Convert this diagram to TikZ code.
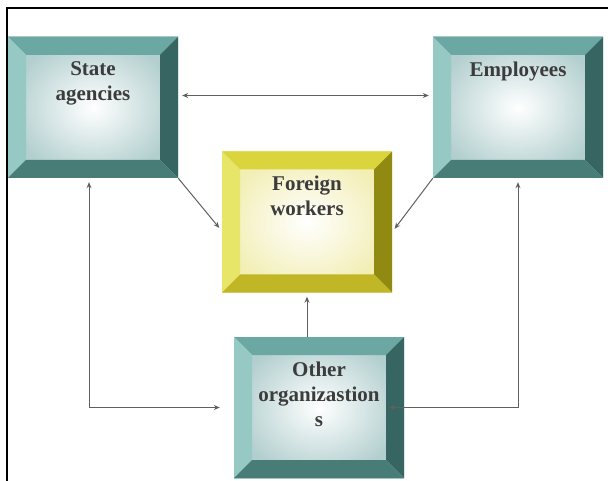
\documentclass[tikz,border=0pt]{standalone}
\usepackage{fontspec}
\setmainfont{Liberation Serif}
\usetikzlibrary{positioning,arrows.meta}

\definecolor{tealtop}{RGB}{108,168,163}
\definecolor{tealleft}{RGB}{150,200,196}
\definecolor{tealright}{RGB}{55,102,98}
\definecolor{tealbottom}{RGB}{72,124,119}
\definecolor{tealface}{RGB}{178,206,206}
\definecolor{yellowtop}{RGB}{218,213,60}
\definecolor{yellowleft}{RGB}{232,230,105}
\definecolor{yellowright}{RGB}{145,138,18}
\definecolor{yellowbottom}{RGB}{192,182,38}
\definecolor{yellowface}{RGB}{242,238,180}
\definecolor{labelgray}{RGB}{60,60,60}
\definecolor{linkgray}{RGB}{95,95,95}

% the four slanted sides of a raised box
\newcommand{\bevelsides}[1]{%
  \coordinate (nw) at (path picture bounding box.north west);
  \coordinate (ne) at (path picture bounding box.north east);
  \coordinate (sw) at (path picture bounding box.south west);
  \coordinate (se) at (path picture bounding box.south east);
  \fill[#1top] (nw) -- (ne) -- ([shift={(-18pt,-18pt)}]ne) -- ([shift={(18pt,-18pt)}]nw) -- cycle;
  \fill[#1left] (nw) -- (sw) -- ([shift={(18pt,18pt)}]sw) -- ([shift={(18pt,-18pt)}]nw) -- cycle;
  \fill[#1right] (ne) -- (se) -- ([shift={(-18pt,18pt)}]se) -- ([shift={(-18pt,-18pt)}]ne) -- cycle;
  \fill[#1bottom] (sw) -- (se) -- ([shift={(-18pt,18pt)}]se) -- ([shift={(18pt,18pt)}]sw) -- cycle;
}

\tikzset{
  bevelbox/.style={minimum width=170pt, minimum height=141pt, inner sep=0pt,
    inner color=white, outer color=#1face, path picture={\bevelsides{#1}}},
  boxtext/.style={align=center, inner sep=0pt, text=labelgray,
    font=\fontsize{21}{25}\selectfont\bfseries},
  link/.style={->, draw=linkgray, line width=1pt, shorten >=4pt}
}

\begin{document}
\begin{tikzpicture}[x=1pt,y=-1pt,>={Stealth[length=6pt,width=5pt]},node distance=25pt]
\useasboundingbox (0,0) rectangle (608,481);
\draw[line width=2pt] (7,481) -- (7,8) -- (608,8);

\node[bevelbox=teal] (sa) at (93,107.5) {};
\node[bevelbox=teal] (em) at (518,107.5) {};
\node[bevelbox=yellow] (fw) at (307,222) {};
\node[bevelbox=teal] (oo) at (319,407.5) {};

\node[boxtext, below=of sa.north] (sa text) {State\\agencies};
\node[boxtext, below=of em.north] (em text) {Employees};
\node[boxtext, below=24pt of fw.north] (fw text) {Foreign\\workers};
\node[boxtext, below=of oo.north] (oo text) {Other\\organizastion\\s};

\draw[link,<->,shorten <=4pt] ([yshift=12pt]sa.east) -- ([yshift=12pt]em.west);
\draw[link] (sa.south east) -- ([yshift=-9pt]fw.west);
\draw[link] (em.south west) -- ([yshift=-10pt]fw.east);
\draw[link] (oo.north -| fw.south) -- (fw.south);
\draw[link,<->,shorten <=4pt,shorten >=14pt] ([xshift=-4pt]sa.south) |- (oo.west);
\draw[link,<->,shorten <=4pt,shorten >=0pt] (em.south) |- ([xshift=-15pt]oo.east);
\end{tikzpicture}
\end{document}
